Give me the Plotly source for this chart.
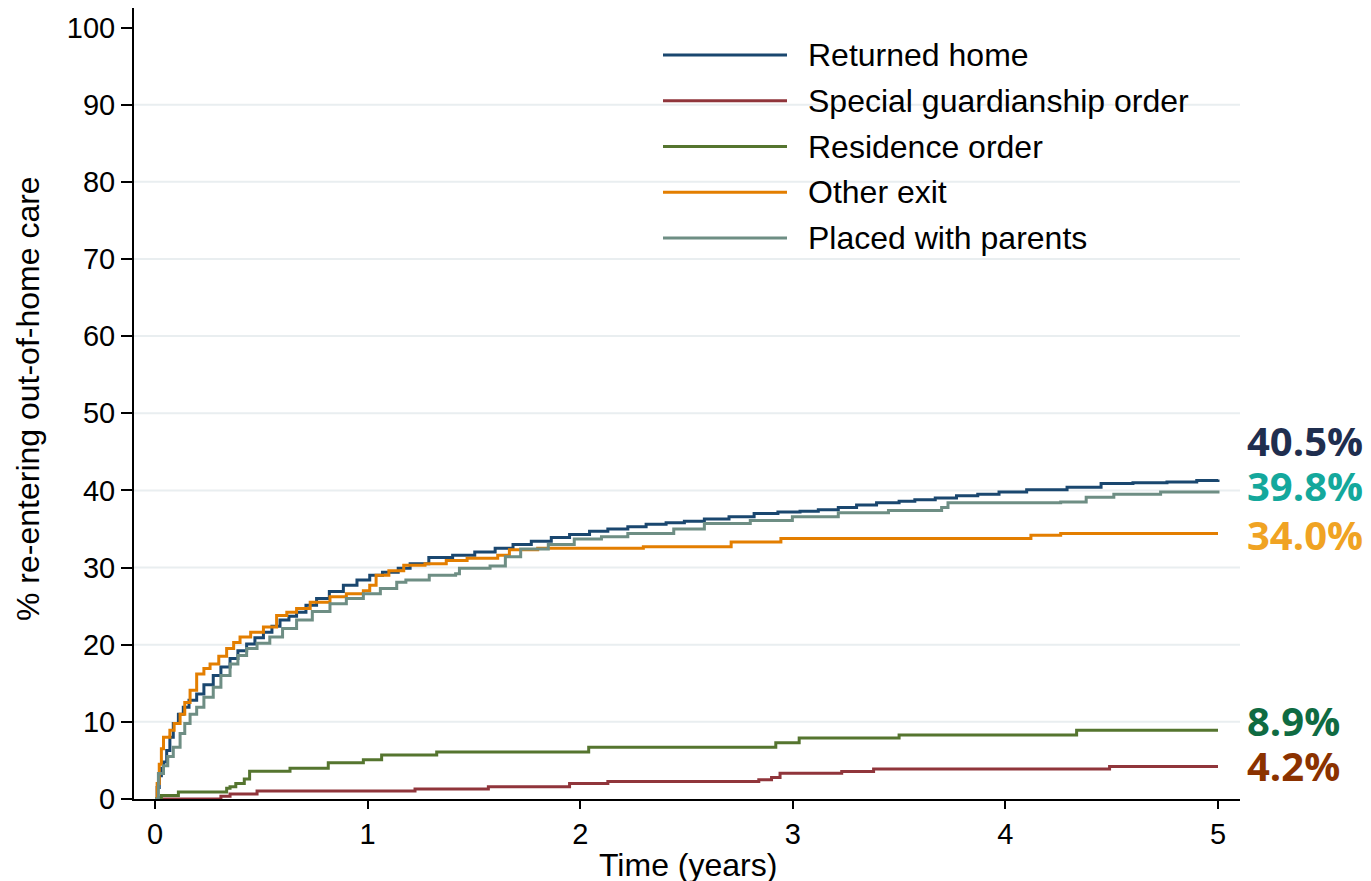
import plotly.graph_objects as go

# Kaplan-Meier style cumulative re-entry curves (years, %)
returned_x = [0, 0.01, 0.02, 0.03, 0.04, 0.055, 0.07, 0.086, 0.11, 0.133, 0.16, 0.196, 0.23, 0.274,
              0.31, 0.353, 0.39, 0.431, 0.47, 0.51, 0.55, 0.588, 0.63, 0.666, 0.71, 0.76, 0.82, 0.886,
              0.95, 1.01, 1.07, 1.144, 1.2, 1.288, 1.4, 1.504, 1.6, 1.684, 1.77, 1.864, 1.95, 2.044,
              2.13, 2.224, 2.31, 2.404, 2.49, 2.584, 2.7, 2.818, 2.93, 3.034, 3.12, 3.214, 3.3, 3.394,
              3.5, 3.574, 3.67, 3.77, 3.87, 3.97, 4.1, 4.29, 4.45, 4.6, 4.76, 4.9, 5.0]
returned_y = [0, 1.5, 3.0, 4.0, 4.8, 6.3, 8.0, 9.8, 11.0, 11.9, 12.8, 13.6, 14.8, 16.0,
              17.1, 18.2, 19.2, 20.1, 20.9, 21.6, 22.4, 23.2, 23.7, 24.2, 25.1, 26.0, 26.9, 27.7,
              28.4, 29.0, 29.4, 29.9, 30.5, 31.3, 31.6, 32.0, 32.5, 33.0, 33.4, 33.9, 34.3, 34.7,
              35.0, 35.3, 35.6, 35.8, 36.0, 36.3, 36.6, 37.0, 37.2, 37.3, 37.5, 37.8, 38.1, 38.4,
              38.6, 38.8, 39.0, 39.3, 39.5, 39.8, 40.1, 40.4, 40.9, 41.0, 41.1, 41.3, 41.4]

sgo_x = [0, 0.31, 0.353, 0.48, 1.223, 1.568, 1.95, 2.13, 2.84, 2.90, 2.94, 3.23, 3.38, 4.49, 5.0]
sgo_y = [0, 0.35, 0.65, 1.05, 1.3, 1.6, 2.0, 2.27, 2.5, 2.8, 3.35, 3.57, 3.9, 4.2, 4.2]

residence_x = [0, 0.015, 0.03, 0.11, 0.337, 0.353, 0.38, 0.42, 0.445, 0.635, 0.815, 0.98, 1.066,
               1.325, 2.04, 2.92, 3.03, 3.50, 4.335, 5.0]
residence_y = [0, 0.2, 0.45, 0.9, 1.4, 1.6, 2.0, 2.6, 3.6, 4.0, 4.7, 5.1, 5.7,
               6.1, 6.7, 7.3, 7.9, 8.3, 8.9, 8.9]

other_x = [0, 0.01, 0.02, 0.03, 0.04, 0.07, 0.09, 0.118, 0.14, 0.165, 0.196, 0.23, 0.259, 0.3,
           0.337, 0.37, 0.40, 0.45, 0.51, 0.572, 0.62, 0.666, 0.73, 0.823, 0.9, 0.98, 1.01, 1.04,
           1.1, 1.17, 1.27, 1.37, 1.468, 1.612, 1.667, 1.8, 2.297, 2.71, 2.944, 4.12, 4.26, 5.0]
other_y = [0, 2.0, 4.5, 6.5, 8.0, 8.9, 9.8, 11.0, 12.5, 14.1, 16.2, 16.9, 17.5, 18.5,
           19.5, 20.3, 21.0, 21.6, 22.3, 23.8, 24.2, 24.7, 25.5, 26.2, 26.6, 27.0, 27.7, 29.0,
           29.6, 30.3, 30.5, 30.9, 31.2, 31.6, 32.3, 32.5, 32.7, 33.3, 33.75, 34.2, 34.4, 34.4]

parents_x = [0, 0.016, 0.04, 0.06, 0.086, 0.118, 0.14, 0.165, 0.196, 0.23, 0.274, 0.31, 0.353,
             0.39, 0.431, 0.48, 0.54, 0.6, 0.666, 0.74, 0.823, 0.9, 0.98, 1.06, 1.137, 1.18, 1.29,
             1.414, 1.432, 1.576, 1.648, 1.72, 1.85, 1.972, 2.1, 2.224, 2.44, 2.584, 2.8, 2.998,
             3.214, 3.45, 3.7, 3.73, 4.26, 4.38, 4.51, 4.73, 5.0]
parents_y = [0, 3.3, 4.3, 5.5, 6.7, 8.5, 9.8, 11.0, 11.9, 13.2, 14.5, 16.0, 17.5,
             18.6, 19.5, 20.2, 21.0, 22.1, 23.2, 24.3, 25.3, 26.0, 26.6, 27.3, 28.1, 28.4, 29.0,
             29.2, 29.9, 30.2, 31.4, 32.4, 33.0, 33.7, 34.0, 34.4, 35.0, 35.7, 36.1, 36.6,
             37.1, 37.4, 37.8, 38.4, 38.5, 39.1, 39.5, 39.8, 40.0]

series_names = ["Returned home", "Special guardianship order", "Residence order",
                "Other exit", "Placed with parents"]
series_x = [returned_x, sgo_x, residence_x, other_x, parents_x]
series_y = [returned_y, sgo_y, residence_y, other_y, parents_y]
line_colors = ["#1a476f", "#90353b", "#55752f", "#e37e00", "#6e8e84"]

end_labels = ["40.5%", "39.8%", "34.0%", "8.9%", "4.2%"]
end_colors = ["#1f2e4f", "#14a89c", "#f0a323", "#0f6b42", "#8b3200"]

x_ticks = [0, 1, 2, 3, 4, 5]
y_ticks = [0, 10, 20, 30, 40, 50, 60, 70, 80, 90, 100]

# pixel geometry of the plot area
W, H = 1371, 881
L, R, T, B = 134, 1240, 8, 799


def px(x):
    return (x - L) / (R - L)


def py(y):
    return (B - y) / (B - T)


fig = go.Figure()
for name, xs, ys, color in zip(series_names, series_x, series_y, line_colors):
    fig.add_trace(go.Scatter(
        x=xs, y=ys, name=name, mode="lines",
        line=dict(color=color, width=3, shape="hv"),
        showlegend=False,
    ))

shapes = []
for v in y_ticks[1:-1]:
    shapes.append(dict(type="line", xref="paper", x0=0, x1=1, yref="y", y0=v, y1=v,
                       line=dict(color="#e9eef0", width=2), layer="below"))

annotations = []
# hand-drawn legend (long line samples like the original)
for i, (name, color) in enumerate(zip(series_names, line_colors)):
    row = 55 + 45.75 * i
    shapes.append(dict(type="line", xref="paper", yref="paper", x0=px(663), x1=px(787),
                       y0=py(row), y1=py(row), line=dict(color=color, width=3)))
    annotations.append(dict(text=name, xref="paper", yref="paper", x=px(806), y=py(row),
                            xanchor="left", yanchor="middle", showarrow=False,
                            font=dict(family="Liberation Sans, Arial", size=32, color="#000")))

label_rows = [440.5, 486, 534, 720, 765]
for text, color, row in zip(end_labels, end_colors, label_rows):
    annotations.append(dict(text=f"<b>{text}</b>", xref="paper", yref="paper", x=px(1245), y=py(row),
                            xanchor="left", yanchor="middle", showarrow=False,
                            font=dict(family="Open Sans", size=40, color=color)))

annotations.append(dict(text="% re-entering out-of-home care", xref="paper", yref="paper",
                        x=px(28), y=py(399), textangle=-90, xanchor="center", yanchor="middle",
                        showarrow=False, font=dict(family="Liberation Sans, Arial", size=32, color="#000")))
annotations.append(dict(text="Time (years)", xref="paper", yref="paper",
                        x=px(688), y=py(865), xanchor="center", yanchor="middle",
                        showarrow=False, font=dict(family="Liberation Sans, Arial", size=32, color="#000")))

fig.update_layout(
    width=W, height=H, autosize=False,
    margin=dict(l=L, r=W - R, t=T, b=H - B, pad=0),
    paper_bgcolor="white", plot_bgcolor="white",
    showlegend=False,
    shapes=shapes,
    annotations=annotations,
    font=dict(family="Liberation Sans, Arial", color="#000"),
    xaxis=dict(range=[(L - 155) / 212.6, (R - 155) / 212.6], tickvals=x_ticks,
               ticks="outside", ticklen=8, tickwidth=2, tickcolor="#000",
               showline=True, linecolor="#000", linewidth=2, mirror=False,
               showgrid=False, zeroline=False, tickfont=dict(size=29, color="#000")),
    yaxis=dict(range=[0, (798.5 - T) / 7.71], tickvals=y_ticks,
               ticks="outside", ticklen=11, tickwidth=2, tickcolor="#000",
               showline=True, linecolor="#000", linewidth=2,
               showgrid=False, zeroline=False, tickfont=dict(size=29, color="#000")),
)

fig.write_html("out.html", config={"displayModeBar": False},
               post_script="document.body.style.margin='0';")
